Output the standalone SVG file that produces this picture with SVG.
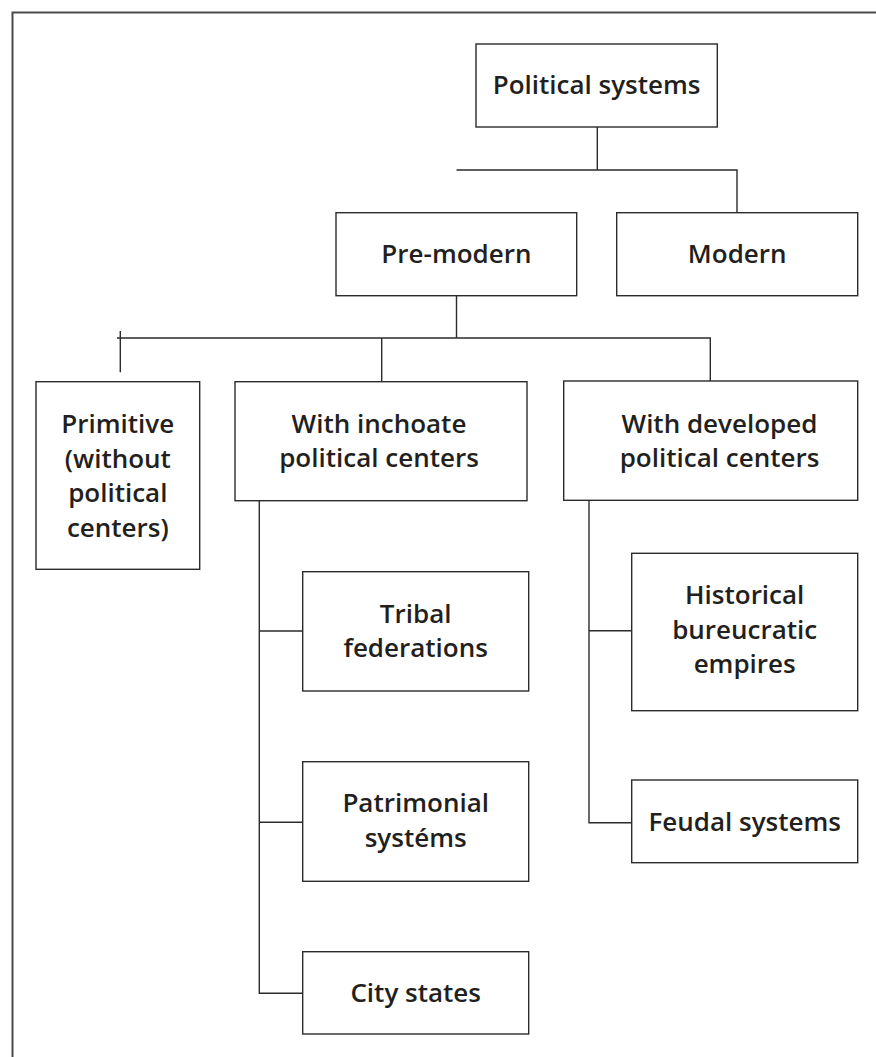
<svg xmlns="http://www.w3.org/2000/svg" width="876" height="1057" viewBox="0 0 876 1057">
<style>
.box{fill:#fff;stroke:#2b2b2b;stroke-width:1.4}
.t{font-family:"Open Sans","Liberation Sans",sans-serif;font-weight:600;font-size:26px;fill:#231f20;text-anchor:middle}
.c{fill:none;stroke:#2b2b2b;stroke-width:1.4}
.frame{fill:none;stroke:#4a4a4a;stroke-width:2}
</style>
<rect width="876" height="1057" fill="#fff"/>
<path class="frame" d="M12.5 1057 V12.5 H876"/>
<g id="connectors">
<path class="c" d="M597.3 127 V170 M456.5 170 H737 V212.7 M456.5 296 V338 M117 338 H710.3 V381.7 M120.3 331 V372.3 M381.7 338 V381.7"/>
<path class="c" d="M259.3 501 V993.3 H302.7 M259.3 631 H302.7 M259.3 822.3 H302.7"/>
<path class="c" d="M589 500.3 V822.7 H631.7 M589 630.7 H631.7"/>
</g>
<g id="political-systems"><rect class="box" x="476" y="44" width="241.3" height="83"/><text class="t" x="596.6" y="94.3">Political systems</text></g>
<g id="pre-modern"><rect class="box" x="336" y="212.7" width="240.7" height="83"/><text class="t" x="456.4" y="263.3">Pre-modern</text></g>
<g id="modern"><rect class="box" x="616.7" y="212.7" width="241" height="83"/><text class="t" x="737.2" y="263.3">Modern</text></g>
<g id="primitive"><rect class="box" x="36" y="381.7" width="163.7" height="187.6"/><text class="t" x="117.8" y="433.3">Primitive</text><text class="t" x="117.8" y="467.7">(without</text><text class="t" x="117.8" y="502">political</text><text class="t" x="117.8" y="536.5">centers)</text></g>
<g id="inchoate"><rect class="box" x="235" y="381.7" width="292" height="119"/><text class="t" x="379" y="433">With inchoate</text><text class="t" x="379" y="467">political centers</text></g>
<g id="developed"><rect class="box" x="563.7" y="381" width="294" height="119.3"/><text class="t" x="719.5" y="432.7">With developed</text><text class="t" x="719.5" y="466.7">political centers</text></g>
<g id="tribal"><rect class="box" x="302.7" y="571.7" width="226" height="119.3"/><text class="t" x="415.7" y="623.3">Tribal</text><text class="t" x="415.7" y="657.3">federations</text></g>
<g id="patrimonial"><rect class="box" x="302.7" y="761.7" width="226" height="119.6"/><text class="t" x="415.7" y="812.3">Patrimonial</text><text class="t" x="415.7" y="846.7">systéms</text></g>
<g id="city-states"><rect class="box" x="302.7" y="951.7" width="226" height="82.3"/><text class="t" x="415.7" y="1001.7">City states</text></g>
<g id="historical"><rect class="box" x="631.7" y="553.3" width="226" height="157.4"/><text class="t" x="744.7" y="604">Historical</text><text class="t" x="744.7" y="639">bureucratic</text><text class="t" x="744.7" y="672.7">empires</text></g>
<g id="feudal"><rect class="box" x="631.7" y="780" width="226" height="82.7"/><text class="t" x="744.7" y="830.7">Feudal systems</text></g>
</svg>
